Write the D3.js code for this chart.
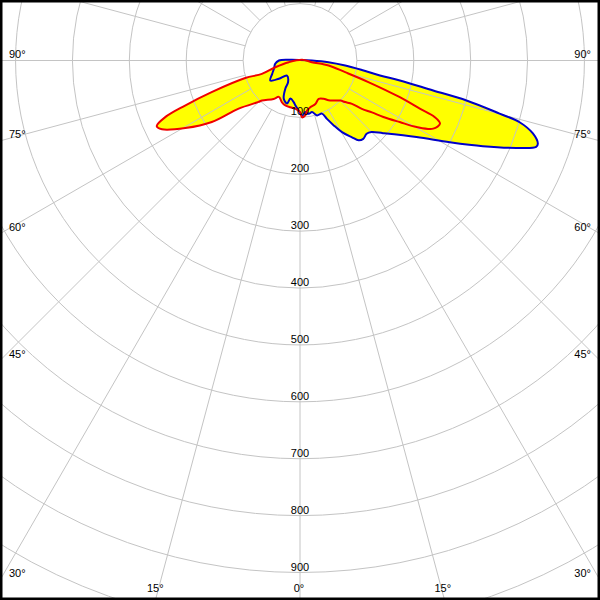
<!DOCTYPE html>
<html>
<head>
<meta charset="utf-8">
<script src="https://cdn.jsdelivr.net/npm/d3@7"></script>
<style>
  html, body { margin: 0; padding: 0; background: #fff; }
  svg { display: block; }
  text { font-family: "Liberation Sans", Arial, sans-serif; font-size: 11px; fill: #000; }
</style>
</head>
<body>
<svg id="chart" width="600" height="600"></svg>
<script>
// ---- data (angle in degrees from nadir, negative = left side; value in cd) ----
const redAngles = [-65.4, -67.2, -68.6, -70.3, -72.2, -70.7, -74.8, -81.4, 109.3, 81.9, 80.1, 75.5, 72.5, 69.8, 68.1, 67.2, 65.7, 62.9, 60.3, 58.3, 55.9, 54.2, 52.0, 50.2, 47.4, 45.2, 40.1, 35.7, 31.7, 26.0, 19.5, 12.4, 8.0, 5.5, 2.0, 0.3, -5.6, -11.7, -18.1, -23.3, -30.1, -34.5, -43.5, -45.0, -51.9, -55.1, -59.5, -63.5];
const redValues = [277, 257, 217, 165, 101, 71, 45, 20, 4, 21, 51, 82, 126, 187, 227, 257, 270, 263, 236, 206, 177, 156, 138, 119, 108, 100, 92, 86, 79, 75, 81, 84, 89, 97, 100, 91, 85, 84, 83, 80, 74, 82, 97, 103, 137, 189, 234, 271];

const blueAngles = [-90, -94, 180, 90, 86.6, 83.7, 81.3, 79.4, 78.7, 77.3, 76.5, 75.1, 74.3, 72.6, 70.7, 69.9, 68.0, 64.9, 61.4, 56.7, 48.8, 45.0, 42.3, 38.9, 36.3, 34.1, 30.4, 27.4, 24.8, 22.4, 17.2, 13.1, 9.3, 5.9, 2.1, -1.5, -6.0, -8.6, -14.2, -16.7, -23.0, -27.7, -28.6, -40.9, -49.3, -56.0, -64.6, -72.5, -82.4];
const blueValues = [37, 18, 1, 21, 50, 80, 110, 143, 179, 240, 301, 363, 401, 429, 443, 442, 410, 355, 300, 245, 194, 178, 174, 177, 174, 163, 146, 128, 113, 101, 101, 93, 95, 91, 97, 88, 79, 74, 69, 79, 73, 55, 44, 35, 49, 63, 54, 48, 44];

const ringTicks = [100, 200, 300, 400, 500, 600, 700, 800, 900];
const ringLabels = ["100", "200", "300", "400", "500", "600", "700", "800", "900"];
const extraRings = [1000, 1100, 1200];
const spokeAngles = d3.range(0, 360, 15);
const angleLabelValues = [90, 75, 60, 45, 30, 15, 0];

// ---- layout ----
const W = 600, H = 600;
const cx = 300, cy = 60.5;
const svg = d3.select("#chart");

const r = d3.scaleLinear().domain([0, 900]).range([0, 512]);
// angle from nadir (deg, + right) -> d3 radial angle (radians, clockwise from up)
const a = d3.scaleLinear().domain([-180, 180]).range([2 * Math.PI, 0]);

svg.append("rect").attr("width", W).attr("height", H).attr("fill", "#fff");

svg.append("defs").append("clipPath").attr("id", "clip")
  .append("rect").attr("x", 0).attr("y", 0).attr("width", W).attr("height", H);

const g = svg.append("g").attr("clip-path", "url(#clip)")
  .append("g").attr("transform", `translate(${cx},${cy})`);

function series(angles, values) {
  return angles.map((d, i) => [d, values[i]]);
}
const line = d3.lineRadial()
  .angle(d => a(d[0]))
  .radius(d => r(d[1]))
  .curve(d3.curveCatmullRomClosed.alpha(0.5));

const redData = series(redAngles, redValues);
const blueData = series(blueAngles, blueValues);

// fills
g.append("path").attr("d", line(blueData)).attr("fill", "#FFFF00").attr("stroke", "none");
g.append("path").attr("d", line(redData)).attr("fill", "#FFFF00").attr("stroke", "none");

// grid
const gridColor = "#C4C4C4";
ringTicks.concat(extraRings).forEach(v => {
  g.append("circle").attr("r", r(v)).attr("fill", "none")
    .attr("stroke", gridColor).attr("stroke-width", 1);
});
spokeAngles.forEach(deg => {
  const ang = a(deg);
  const r0 = r(ringTicks[0]), r1 = 900;
  g.append("line")
    .attr("x1", r0 * Math.sin(ang)).attr("y1", -r0 * Math.cos(ang))
    .attr("x2", r1 * Math.sin(ang)).attr("y2", -r1 * Math.cos(ang))
    .attr("stroke", gridColor).attr("stroke-width", 1);
});

// curves
g.append("path").attr("d", line(blueData)).attr("fill", "none")
  .attr("stroke", "#0000C8").attr("stroke-width", 2).attr("stroke-linejoin", "round");
g.append("path").attr("d", line(redData)).attr("fill", "none")
  .attr("stroke", "#F00000").attr("stroke-width", 2).attr("stroke-linejoin", "round");

// ring labels
ringTicks.forEach((v, i) => {
  g.append("text").attr("x", 0).attr("y", r(v) - 2)
    .attr("text-anchor", "middle").text(ringLabels[i]);
});

// angle labels
const bottomY = H - 3;
angleLabelValues.forEach(deg => {
  const t = deg * Math.PI / 180;
  const sideY = deg === 0 ? Infinity : cy + cx * Math.cos(t) / Math.sin(t);
  if (sideY < bottomY) {
    svg.append("text").attr("x", 9).attr("y", sideY - 3).text(deg + "°");
    svg.append("text").attr("x", W - 9).attr("y", sideY - 3)
      .attr("text-anchor", "end").text(deg + "°");
  } else {
    const dx = (bottomY - cy) * Math.tan(t);
    const xs = deg === 0 ? [cx] : [cx - dx, cx + dx];
    xs.forEach(x => {
      svg.append("text").attr("x", x - 1).attr("y", 592)
        .attr("text-anchor", "middle").text(deg + "°");
    });
  }
});

// frame
svg.append("rect").attr("x", 1.25).attr("y", 1.25).attr("width", W - 2.5).attr("height", H - 2.5)
  .attr("fill", "none").attr("stroke", "#000").attr("stroke-width", 2.5);
</script>
</body>
</html>
